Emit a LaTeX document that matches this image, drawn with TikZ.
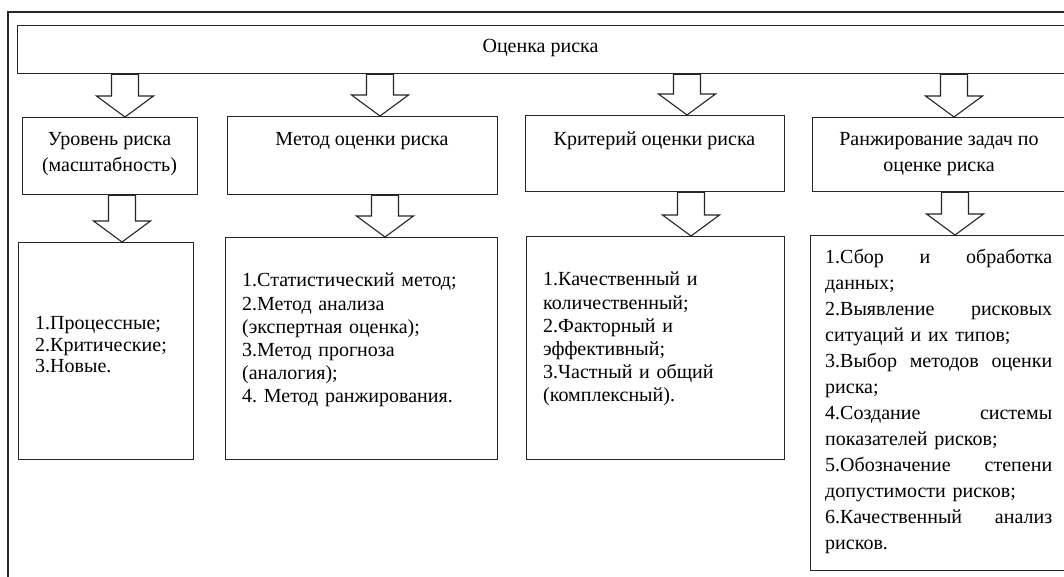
\documentclass[tikz,border=0pt]{standalone}
\usepackage{fontspec}
\setmainfont{Liberation Serif}
\frenchspacing
\usetikzlibrary{calc}
\tikzset{
  x=1pt, y=-1pt,
  frame/.style={draw=black!85, line width=1.3pt},
  box/.style={draw=black!85, line width=1.3pt, rectangle, inner sep=0pt, anchor=north west},
  barrow/.style={draw=black!85, line width=1.1pt, fill=white, line join=miter},
  headtxt/.style={font=\fontsize{20}{26}\selectfont, align=center, anchor=north, inner sep=0pt},
  bodytxt/.style={font=\fontsize{20}{23.2}\selectfont, align=left, anchor=north west, inner sep=0pt},
}
\newcommand\blockarrow[2]{%
  \draw[barrow] let \p1=(#1), \p2=(#2) in
    (\x2,\y2) -- (\x2-28.5pt,\y2+21pt) -- (\x2-13.5pt,\y2+21pt) -- (\x2-13.5pt,\y1)
    -- (\x2+13.5pt,\y1) -- (\x2+13.5pt,\y2+21pt) -- (\x2+28.5pt,\y2+21pt) -- cycle;}
\begin{document}
\begin{tikzpicture}
\useasboundingbox (0,0) rectangle (1064,576);
\clip (0,0) rectangle (1064,576);
\fill[white] (0,0) rectangle (1064,576);
% outer frame
\draw[frame] (8,12) rectangle (1080,600);
% top box
\node[box, minimum width=1049pt, minimum height=48pt] (top) at (17,25) {};
\node[font=\fontsize{20}{24}\selectfont, anchor=base, inner sep=0pt] (toptxt) at (540.5,52) {Оценка риска};
% header boxes
\node[box, minimum width=175pt, minimum height=77pt] (h1) at (22,117) {};
\node[box, minimum width=270pt, minimum height=78pt] (h2) at (227,116) {};
\node[box, minimum width=259pt, minimum height=76pt] (h3) at (525,115) {};
\node[box, minimum width=254pt, minimum height=74pt] (h4) at (812,117) {};
\node[headtxt] (h1t) at (109.5,132) {Уровень риска\\(масштабность)};
\node[headtxt] (h2t) at (362,132) {Метод оценки риска};
\node[headtxt] (h3t) at (654.5,132) {Критерий оценки риска};
\node[headtxt] (h4t) at (939,132) {Ранжирование задач по\\оценке риска};
% content boxes
\node[box, minimum width=175pt, minimum height=217pt] (c1) at (18,242) {};
\node[box, minimum width=272pt, minimum height=222pt] (c2) at (225,237) {};
\node[box, minimum width=258pt, minimum height=223pt] (c3) at (526,236) {};
\node[box, minimum width=256pt, minimum height=335pt] (c4) at (810,235) {};
\node[bodytxt, text width=150pt, font=\fontsize{20}{21.7}\selectfont] (c1t) at (35,316)
  {1.Процессные;\\2.Критические;\\3.Новые.};
\node[bodytxt, text width=250pt] (c2t) at (242,273)
  {1.Статистический метод;\\2.Метод анализа\\(экспертная оценка);\\3.Метод прогноза\\(аналогия);\\4. Метод ранжирования.};
\node[bodytxt, text width=230pt] (c3t) at (543,272)
  {1.Качественный и\\количественный;\\2.Факторный и\\эффективный;\\3.Частный и общий\\(комплексный).};
\node[bodytxt, text width=227pt, font=\fontsize{20}{26}\selectfont] (c4t) at (825,249)
  {1.Сбор\hfill и\hfill обработка\\данных;\\2.Выявление\hfill рисковых\\ситуаций и их типов;\\3.Выбор\hfill методов\hfill оценки\\риска;\\4.Создание\hfill системы\\показателей рисков;\\5.Обозначение\hfill степени\\допустимости рисков;\\6.Качественный\hfill анализ\\рисков.};
% arrow columns
\coordinate (a1) at (125,0);
\coordinate (a2) at (380,0);
\coordinate (a3) at (687,0);
\coordinate (a4) at (954,0);
\coordinate (b1) at (122,0);
\coordinate (b2) at (385,0);
\coordinate (b3) at (691,0);
\coordinate (b4) at (955,0);
\blockarrow{top.south -| a1}{h1.north -| a1}
\blockarrow{top.south -| a2}{h2.north -| a2}
\blockarrow{top.south -| a3}{h3.north -| a3}
\blockarrow{top.south -| a4}{h4.north -| a4}
\blockarrow{h1.south -| b1}{c1.north -| b1}
\blockarrow{h2.south -| b2}{c2.north -| b2}
\blockarrow{h3.south -| b3}{c3.north -| b3}
\blockarrow{h4.south -| b4}{c4.north -| b4}
\end{tikzpicture}
\end{document}
